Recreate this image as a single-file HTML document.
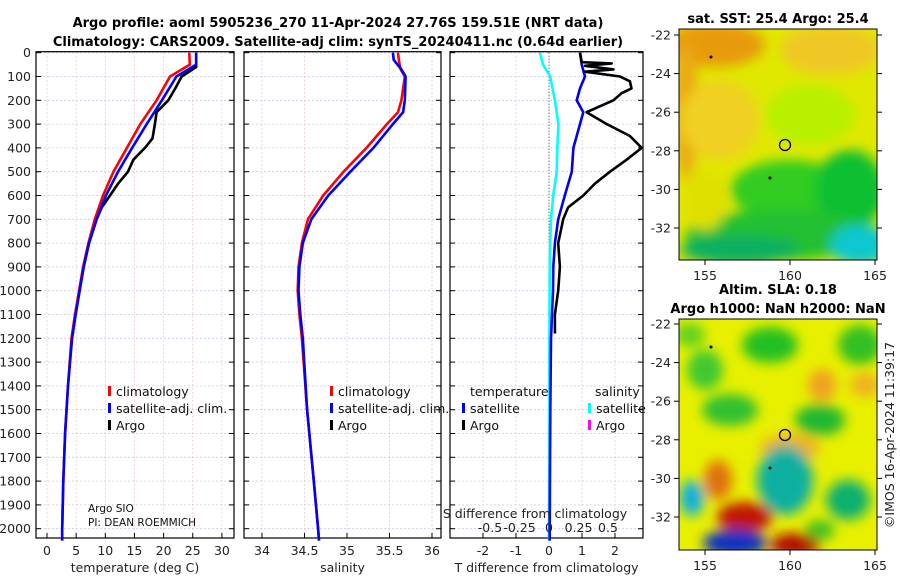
<!DOCTYPE html>
<html><head><meta charset="utf-8">
<style>
body{margin:0;background:#fff;}
svg{display:block;font-family:"DejaVu Sans","Liberation Sans",sans-serif;}
.tk{font-size:12.5px;fill:#222;}
.ttl{font-size:13px;font-weight:bold;fill:#000;}
.lg{font-size:12.5px;fill:#111;}
</style></head>
<body>
<svg id="chart" width="900" height="580" viewBox="0 0 900 580">
<defs>
<filter id="blur1" x="-50%" y="-50%" width="200%" height="200%"><feGaussianBlur stdDeviation="6"/></filter>
<filter id="blur2" x="-50%" y="-50%" width="200%" height="200%"><feGaussianBlur stdDeviation="6"/></filter>
<clipPath id="cm1"><rect x="679" y="29" width="198" height="231"/></clipPath>
<clipPath id="cm2"><rect x="679" y="319" width="198" height="231"/></clipPath>
</defs>
<text class="ttl" x="338" y="27" text-anchor="middle">Argo profile: aoml 5905236_270 11-Apr-2024 27.76S 159.51E (NRT data)</text>
<text class="ttl" x="338" y="46" text-anchor="middle">Climatology: CARS2009. Satellite-adj clim: synTS_20240411.nc (0.64d earlier)</text>
<g id="panels"></g>
<g id="maps">
 <text class="ttl" x="778" y="23" text-anchor="middle">sat. SST: 25.4 Argo: 25.4</text>
 <g clip-path="url(#cm1)">
  <rect x="679" y="29" width="198" height="231" fill="#e0e800"/>
  <g filter="url(#blur1)">
   <ellipse cx="715" cy="45" rx="50" ry="22" fill="#e89a10"/>
   <ellipse cx="686" cy="110" rx="12" ry="70" fill="#eaa818"/>
   <ellipse cx="830" cy="50" rx="50" ry="25" fill="#f0c828"/>
   <ellipse cx="720" cy="120" rx="40" ry="40" fill="#f0d020"/>
   <ellipse cx="810" cy="115" rx="45" ry="30" fill="#b8f000"/>
   <ellipse cx="790" cy="190" rx="60" ry="30" fill="#30cc20"/>
   <ellipse cx="850" cy="190" rx="35" ry="40" fill="#10c030"/>
   <ellipse cx="780" cy="235" rx="95" ry="25" fill="#20c030"/>
   <ellipse cx="740" cy="250" rx="60" ry="15" fill="#10b060"/>
   <ellipse cx="860" cy="245" rx="30" ry="20" fill="#10c8d0"/>
   <ellipse cx="705" cy="200" rx="22" ry="30" fill="#e0e000"/>
  </g>
  <circle cx="785" cy="145" r="5.5" fill="none" stroke="#000" stroke-width="1.3"/>
  <circle cx="770" cy="178" r="1.5" fill="#000"/><circle cx="711" cy="57" r="1.5" fill="#000"/>
 </g>
 <text class="ttl" x="778" y="294" text-anchor="middle">Altim. SLA: 0.18</text>
 <text class="ttl" x="778" y="313" text-anchor="middle">Argo h1000: NaN h2000: NaN</text>
 <g clip-path="url(#cm2)">
  <rect x="679" y="319" width="198" height="231" fill="#e8f000"/>
  <g filter="url(#blur2)">
   <ellipse cx="690" cy="335" rx="15" ry="12" fill="#60d020"/>
   <ellipse cx="770" cy="345" rx="28" ry="18" fill="#20c020"/>
   <ellipse cx="860" cy="345" rx="22" ry="20" fill="#30c020"/>
   <ellipse cx="822" cy="385" rx="14" ry="16" fill="#f0a020"/>
   <ellipse cx="705" cy="370" rx="18" ry="20" fill="#40c830"/>
   <ellipse cx="730" cy="410" rx="28" ry="16" fill="#30c030"/>
   <ellipse cx="820" cy="420" rx="25" ry="16" fill="#20b830"/>
   <ellipse cx="865" cy="385" rx="15" ry="12" fill="#f0b020"/>
   <ellipse cx="790" cy="448" rx="30" ry="14" fill="#f0b020"/>
   <ellipse cx="785" cy="480" rx="28" ry="35" fill="#10b0a0"/>
   <ellipse cx="848" cy="500" rx="22" ry="20" fill="#10b070"/>
   <ellipse cx="745" cy="517" rx="28" ry="15" fill="#c01800"/>
   <ellipse cx="718" cy="480" rx="14" ry="20" fill="#e07010"/>
   <ellipse cx="692" cy="498" rx="12" ry="18" fill="#10b0e0"/>
   <ellipse cx="735" cy="543" rx="32" ry="14" fill="#1030c0"/>
   <ellipse cx="795" cy="545" rx="25" ry="12" fill="#b01000"/>
   <ellipse cx="820" cy="530" rx="15" ry="10" fill="#40c020"/>
  </g>
  <circle cx="785" cy="435" r="5.5" fill="none" stroke="#000" stroke-width="1.3"/>
  <circle cx="770" cy="468" r="1.5" fill="#000"/><circle cx="711" cy="347" r="1.5" fill="#000"/>
 </g>
 <text x="0" y="0" transform="translate(894,435) rotate(-90)" text-anchor="middle" style="font-size:12.5px;fill:#222">©IMOS 16-Apr-2024 11:39:17</text>
</g>
</svg>
<script>
// ---- data ----
const tDepth = [0,50,100,200,300,400,500,600,700,800,900,1000,1100,1200,1400,1600,1800,2000,2050];
const tClim = [24.4,24.5,21.1,18.8,16.0,13.7,11.4,9.6,8.2,7.1,6.2,5.5,4.8,4.2,3.6,3.1,2.8,2.6,2.6];
const tSat  = [25.6,25.6,22.2,19.7,17.1,14.6,12.2,10.1,8.5,7.2,6.3,5.6,4.9,4.3,3.6,3.1,2.8,2.6,2.6];
const argoDepth = [0,60,100,150,200,250,300,360,400,450,500,550,600,650,700,800,900,1000,1100,1180];
const tArgo = [25.6,25.6,23.1,22.0,20.8,18.8,18.5,18.1,16.8,14.8,13.9,12.2,10.8,9.4,8.5,7.2,6.3,5.6,4.9,4.4];
const sDepth = [0,30,70,100,200,250,300,400,500,600,700,800,900,1000,1100,1200,1500,1800,2000,2050];
const sClim = [35.60,35.61,35.63,35.68,35.64,35.60,35.47,35.23,34.96,34.72,34.54,34.47,34.43,34.42,34.44,34.47,34.53,34.61,34.66,34.67];
const sSat  = [35.54,35.55,35.64,35.69,35.68,35.66,35.54,35.31,35.04,34.78,34.58,34.48,34.44,34.43,34.45,34.48,34.53,34.61,34.66,34.67];
const dDepth = [0,50,100,150,200,250,300,400,500,600,700,800,900,1000,1100,1200,1500,2000,2050];
const dTsat = [0.94,0.99,1.09,0.94,0.84,1.04,0.94,0.74,0.69,0.48,0.28,0.18,0.13,0.12,0.09,0.06,0.04,0.02,0.02];
const dSsat = [-0.076,-0.05,0.01,0.03,0.05,0.065,0.08,0.07,0.065,0.036,0.017,0.01,0.007,0.005,0.004,0.003,0.002,0.0,0.0];
const dArgoDepth = [0,40,45,55,70,80,100,120,150,170,200,250,300,350,400,450,500,550,600,650,700,800,900,1000,1100,1180];
const dTargo = [0.94,0.99,1.9,1.09,1.95,1.09,2.15,2.45,2.5,2.2,1.95,1.14,1.75,2.45,2.81,2.35,1.85,1.39,1.04,0.58,0.43,0.28,0.33,0.28,0.18,0.18];
const depthTicks = [0,100,200,300,400,500,600,700,800,900,1000,1100,1200,1300,1400,1500,1600,1700,1800,1900,2000];
const tTicks = [0,5,10,15,20,25,30];
const sTicks = [34,34.5,35,35.5,36];
const dTTicks = [-2,-1,0,1,2];
const dSTicks = [-0.5,-0.25,0,0.25,0.5];
const dSTickLabels = ["-0.5","-0.25","0","0.25","0.5"];

const NS="http://www.w3.org/2000/svg";
const root=document.getElementById('panels');
function mk(tag,attrs,parent){const e=document.createElementNS(NS,tag);for(const k in attrs)e.setAttribute(k,attrs[k]);(parent||root).appendChild(e);return e;}
const yTop=52.7, yPer=0.238, yBot=538;
const yS=d=>yTop+d*yPer;
const panels=[
 {x0:36,x1:234,name:'temperature-panel',xs:v=>47+v*5.83,ticks:tTicks,labels:tTicks.map(String),title:'temperature (deg C)'},
 {x0:244,x1:441,name:'salinity-panel',xs:v=>262+(v-34)*85,ticks:sTicks,labels:sTicks.map(String),title:'salinity'},
 {x0:450,x1:643,name:'difference-panel',xs:v=>549+v*33,ticks:dTTicks,labels:dTTicks.map(String),title:'T difference from climatology'}
];
const sdx=v=>549+v*118;
panels.forEach((p,i)=>{
 const g=mk('g',{});
 
 
 depthTicks.forEach(d=>{
  mk('line',{x1:p.x0,x2:p.x1,y1:yS(d),y2:yS(d),stroke:'#c8c8e8','stroke-width':0.8,'stroke-dasharray':'2,2'},g);
  mk('line',{x1:p.x0,x2:p.x0+5,y1:yS(d),y2:yS(d),stroke:'#000'},g);
  mk('line',{x1:p.x1-5,x2:p.x1,y1:yS(d),y2:yS(d),stroke:'#000'},g);
  if(i===0){const t=mk('text',{x:31,y:yS(d)+4.5,'text-anchor':'end',class:'tk'},g);t.textContent=d;}
 });
 p.ticks.forEach((v,j)=>{
  const x=p.xs(v);
  mk('line',{x1:x,x2:x,y1:yTop-1,y2:yBot,stroke:'#e8c8c8','stroke-width':0.8,'stroke-dasharray':'2,2'},g);
  mk('line',{x1:x,x2:x,y1:yBot-5,y2:yBot,stroke:'#000'},g);
  const t=mk('text',{x:x,y:555,'text-anchor':'middle',class:'tk'},g);t.textContent=p.labels[j];
 });
 const tt=mk('text',{x:(p.x0+p.x1)/2,y:572,'text-anchor':'middle',class:'tk'},g);tt.textContent=p.title;
 
 
 mk('rect',{x:p.x0,y:yTop-1,width:p.x1-p.x0,height:yBot-yTop+1,fill:'none',stroke:'#000','stroke-width':1.2},g);
});
function line(xs,ds,fx,color,name,w){
 const pts=xs.map((v,i)=>fx(v).toFixed(1)+','+yS(ds[i]).toFixed(1)).join(' ');
 const e=mk('polyline',{points:pts,fill:'none',stroke:color,'stroke-width':w||2.6,'stroke-linejoin':'round'});
 
 
}
const P=panels;
line(tArgo,argoDepth,P[0].xs,'#000','temp-argo-line');
line(tClim,tDepth,P[0].xs,'#f00','temp-climatology-line');
line(tSat,tDepth,P[0].xs,'#00f','temp-satellite-line');
line(sClim,sDepth,P[1].xs,'#f00','salinity-climatology-line');
line(sSat,sDepth,P[1].xs,'#00f','salinity-satellite-line');
mk('line',{x1:549,x2:549,y1:yTop,y2:yBot,stroke:'#444','stroke-width':1,'stroke-dasharray':'1,2'});
line(dSsat,dDepth,sdx,'#00ffff','s-diff-satellite-line');
line(dTsat,dDepth,P[2].xs,'#0000ee','t-diff-satellite-line');
line(dTargo,dArgoDepth,P[2].xs,'#000','t-diff-argo-line');
dSTicks.forEach((v,j)=>{const t=mk('text',{x:sdx(v),y:532,'text-anchor':'middle',class:'tk'});t.textContent=dSTickLabels[j];});
const st=mk('text',{x:535,y:518,'text-anchor':'middle',class:'tk'});st.textContent='S difference from climatology';


function leg(x,y,color,label,name){
 const g=mk('g',{});
 
 
 mk('rect',{x:x,y:y-10,width:3,height:10,fill:color},g);
 const t=mk('text',{x:x+8,y:y,class:'lg'},g);t.textContent=label;
}
leg(108,396,'#f00','climatology','legend-climatology');
leg(108,413,'#00f','satellite-adj. clim.','legend-satellite');
leg(108,430,'#000','Argo','legend-argo');
leg(330,396,'#f00','climatology','legend-s-climatology');
leg(330,413,'#00f','satellite-adj. clim.','legend-s-satellite');
leg(330,430,'#000','Argo','legend-s-argo');
const lt=mk('text',{x:470,y:396,class:'lg'});lt.textContent='temperature';
const ls=mk('text',{x:595,y:396,class:'lg'});ls.textContent='salinity';
leg(462,413,'#00f','satellite','legend-t-satellite');
leg(462,430,'#000','Argo','legend-t-argo');
leg(588,413,'#00ffff','satellite','legend-s-sat');
leg(588,430,'#ff00ff','Argo','legend-s-argo-diff');
const a1=mk('text',{x:88,y:512,style:'font-size:10.5px;fill:#111'});a1.textContent='Argo SIO';
const a2=mk('text',{x:88,y:526,style:'font-size:10.5px;fill:#111'});a2.textContent='PI: DEAN ROEMMICH';
function mapAxes(y0,latY0){
 const g=mk('g',{},document.getElementById('maps'));
 
 
 mk('rect',{x:679,y:y0,width:198,height:231,fill:'none',stroke:'#000','stroke-width':1},g);
 [-22,-24,-26,-28,-30,-32].forEach((lat,i)=>{
  const y=latY0+i*38.6;
  mk('line',{x1:674,x2:679,y1:y,y2:y,stroke:'#000'},g);
  mk('line',{x1:877,x2:882,y1:y,y2:y,stroke:'#000'},g);
  const t=mk('text',{x:671,y:y+4.5,'text-anchor':'end',class:'tk'},g);t.textContent=lat;
 });
 [155,160,165].forEach(lon=>{
  const x=705+(lon-155)*17;
  mk('line',{x1:x,x2:x,y1:y0+231,y2:y0+236,stroke:'#000'},g);
  const t=mk('text',{x:x,y:y0+251,'text-anchor':'middle',class:'tk'},g);t.textContent=lon;
 });
}
mapAxes(29,35);
mapAxes(319,324);
</script>
</body></html>
